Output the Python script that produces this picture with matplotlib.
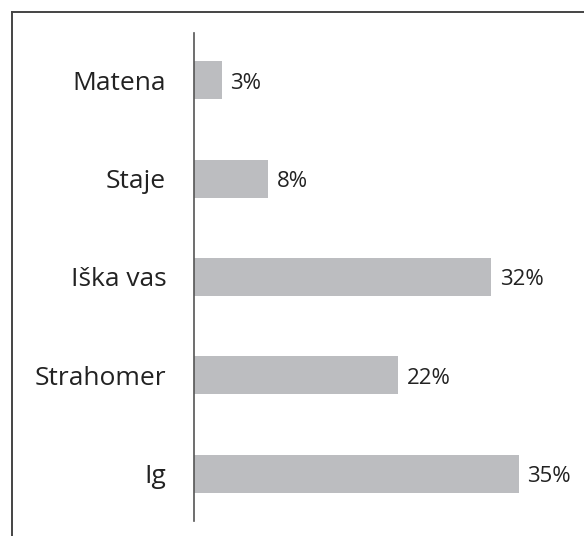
import matplotlib
matplotlib.use("Agg")
import matplotlib.pyplot as plt
from matplotlib.lines import Line2D

categories = ["Matena", "Staje", "Iška vas", "Strahomer", "Ig"]
values = [3, 8, 32, 22, 35]

plt.rcParams['font.family'] = ['Open Sans', 'DejaVu Sans']

W, H = 584, 536
fig = plt.figure(figsize=(W / 100, H / 100), dpi=100)

# axes placed in pixel terms
left, right, top, bottom = 194, 565.6, 33, 521
ax = fig.add_axes([left / W, 1 - bottom / H, (right - left) / W, (bottom - top) / H])

ypos = list(range(len(categories)))[::-1]
ax.barh(ypos, values, height=0.386, color="#bcbdc0")
ax.set_xlim(0, 40)
ax.set_ylim(-0.48, 4.48)

for y, v, name in zip(ypos, values, categories):
    ax.annotate(f"{v}%", (v, y), xytext=(6, -2), textcoords="offset points",
                va="center", ha="left", fontsize=16, color="#222222")
    ax.annotate(name, (0, y), xytext=(-20, -2), textcoords="offset points",
                va="center", ha="right", fontsize=19, color="#222222")

ax.set_yticks([])
ax.set_xticks([])
for s in ["top", "right", "bottom"]:
    ax.spines[s].set_visible(False)
ax.spines["left"].set_color("#555555")
ax.spines["left"].set_linewidth(1.2)

# frame around the figure (top and left only visible)
x0 = 12 / W
y0 = 1 - 11.5 / H
fig.add_artist(Line2D([x0, x0], [0, y0], transform=fig.transFigure, color="#444444", lw=1.4))
fig.add_artist(Line2D([x0, 1], [y0, y0], transform=fig.transFigure, color="#444444", lw=1.4))

fig.savefig("out.png", dpi=100)
